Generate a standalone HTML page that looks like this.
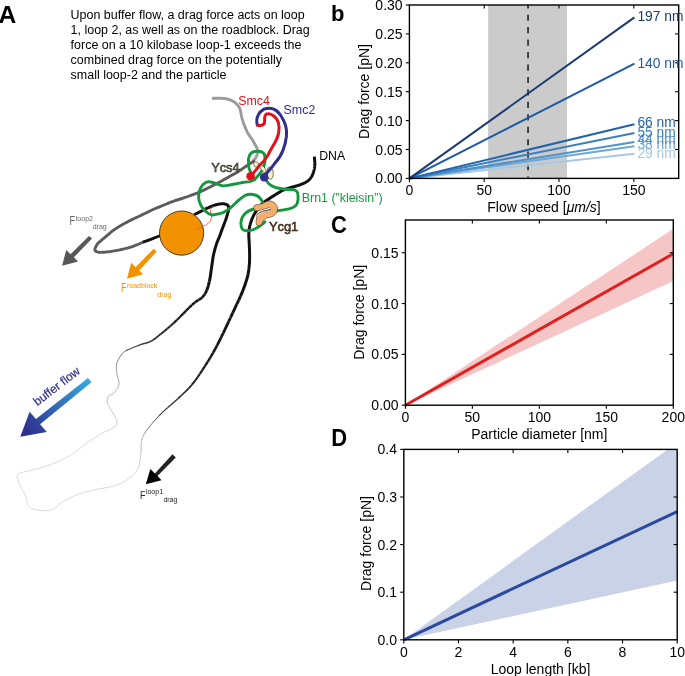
<!DOCTYPE html>
<html><head><meta charset="utf-8">
<style>
html,body{margin:0;padding:0;background:#fff;width:685px;height:676px;overflow:hidden}
svg{display:block;will-change:transform;font-family:"Liberation Sans",sans-serif}
</style></head><body>
<svg width="685" height="676" viewBox="0 0 685 676">
<rect width="685" height="676" fill="#fff"/>
<!-- ================= PANEL A ================= -->
<g id="A">
<text transform="translate(-1.5,22.9) scale(1.1,1.03)" font-size="22.4" font-weight="bold" fill="#000">A</text>
<g font-size="12.47" fill="#000">
<text x="70.6" y="19.0">Upon buffer flow, a drag force acts on loop</text>
<text x="70.6" y="34.1">1, loop 2, as well as on the roadblock. Drag</text>
<text x="70.6" y="48.9">force on a 10 kilobase loop-1 exceeds the</text>
<text x="70.6" y="63.7">combined drag force on the potentially</text>
<text x="70.6" y="78.5">small loop-2 and the particle</text>
</g>

<!-- loop1 (DNA, tapering) -->
<g fill="none" stroke-linecap="butt" stroke-linejoin="round"><polyline points="314.40,156.70 314.43,157.21 314.46,157.72 314.50,158.24 314.54,158.76 314.58,159.28 314.62,159.80 314.66,160.32 314.69,160.84 314.73,161.36 314.76,161.87 314.79,162.38 314.81,162.88 314.82,163.37 314.82,163.86 314.82,164.33 314.80,164.80 314.78,165.25 314.74,165.70 314.71,166.14 314.67,166.57 314.62,166.99 314.56,167.41 314.50,167.82 314.44,168.23 314.37,168.63 314.29,169.03 314.20,169.43 314.12,169.83 314.02,170.22 313.92,170.61 313.81,171.01 313.70,171.40 313.58,171.79 313.46,172.19 313.33,172.58 313.20,172.98 313.06,173.37 312.92,173.76 312.77,174.15 312.61,174.54 312.45,174.92 312.28,175.29 312.10,175.66 311.92,176.03 311.73,176.38 311.53,176.73 311.32,177.07 311.10,177.40 310.88,177.72 310.65,178.03 310.42,178.34 310.18,178.64 309.93,178.93 309.68,179.22 309.42,179.49 309.15,179.77 308.87,180.04 308.58,180.30 308.28,180.56 307.97,180.81 307.65,181.07 307.31,181.31 306.96,181.56 306.60,181.80 306.22,182.04 305.82,182.27 305.40,182.50 304.97,182.73 304.53,182.95 304.07,183.16 303.60,183.37 303.12,183.58 302.64,183.78 302.15,183.98 301.66,184.18 301.17,184.37 300.67,184.56 300.18,184.74 299.69,184.92 299.20,185.10 298.71,185.27 298.22,185.43 297.71,185.59 297.21,185.74 296.70,185.89 296.18,186.03 295.67,186.16 295.15,186.30 294.63,186.43 294.12,186.57 293.60,186.70 293.09,186.83 292.59,186.97 292.08,187.11 291.59,187.25 291.10,187.40 290.61,187.55 290.13,187.70 289.64,187.85 289.15,188.00 288.66,188.15 288.18,188.31 287.70,188.46 287.22,188.61 286.75,188.77 286.28,188.92 285.83,189.08 285.38,189.24 284.94,189.40 284.51,189.57 284.10,189.73 283.70,189.90 283.32,190.07 282.97,190.23 282.63,190.39 282.32,190.54 282.02,190.70 281.73,190.86 281.44,191.02 281.16,191.18 280.87,191.35 280.58,191.53 280.28,191.71 279.97,191.90 279.64,192.11 279.28,192.32 278.91,192.55 278.50,192.80 278.06,193.06 277.60,193.34 277.12,193.63 276.62,193.94 276.10,194.26 275.57,194.59 275.02,194.92 274.47,195.26 273.92,195.61 273.37,195.96 272.82,196.31 272.27,196.65 271.73,197.00 271.21,197.34 270.69,197.67 270.20,198.00 269.72,198.32 269.24,198.63 268.77,198.93 268.30,199.23 267.84,199.53 267.38,199.82 266.93,200.12 266.48,200.42 266.03,200.72 265.59,201.03 265.15,201.35 264.71,201.67 264.28,202.01 263.85,202.36 263.42,202.72 263.00,203.10 262.58,203.50 262.15,203.91 261.73,204.33 261.31,204.77 260.89,205.22 260.47,205.68 260.06,206.15 259.66,206.62 259.26,207.09 258.86,207.57 258.48,208.05 258.10,208.53 257.73,209.01 257.38,209.48 257.03,209.94 256.70,210.40 256.38,210.85 256.07,211.30 255.78,211.74 255.49,212.18 255.21,212.62 254.94,213.06 254.68,213.50 254.43,213.94 254.19,214.38 253.95,214.82 253.71,215.27 253.48,215.73 253.26,216.18 253.04,216.65 252.82,217.12 252.60,217.60 252.39,218.09 252.18,218.59 251.97,219.09 251.77,219.60 251.57,220.12 251.38,220.64 251.19,221.17 251.01,221.69 250.83,222.22 250.66,222.75 250.50,223.28 250.34,223.81 250.20,224.34 250.05,224.86 249.92,225.38 249.80,225.90 249.69,226.41 249.58,226.90 249.48,227.39 249.39,227.88 249.30,228.36 249.23,228.83 249.16,229.31 249.09,229.79 249.04,230.28 248.99,230.77 248.94,231.28 248.90,231.79 248.87,232.32 248.84,232.86 248.82,233.42 248.80,234.00 248.79,234.60 248.79,235.22 248.80,235.85 248.82,236.50 248.85,237.16 248.89,237.83 248.93,238.52 248.97,239.21 249.01,239.90 249.06,240.60 249.11,241.30 249.15,242.01 249.20,242.71 249.24,243.41 249.27,244.11 249.30,244.80 249.33,245.49 249.35,246.19 249.38,246.89 249.41,247.60 249.43,248.31 249.46,249.02 249.48,249.74 249.51,250.45 249.53,251.16 249.55,251.87 249.56,252.58 249.58,253.28 249.59,253.97 249.60,254.65 249.60,255.33 249.60,256.00 249.60,256.66 249.59,257.30 249.59,257.93 249.58,258.55 249.58,259.17 249.57,259.78 249.55,260.38 249.54,260.99 249.52,261.59 249.49,262.20 249.46,262.81 249.42,263.43 249.38,264.06 249.33,264.69 249.27,265.34 249.20,266.00 249.13,266.67 249.06,267.33 248.98,268.00 248.91,268.67 248.82,269.34 248.74,270.02 248.64,270.71 248.54,271.40 248.43,272.10 248.31,272.81 248.18,273.54 248.04,274.28 247.88,275.03 247.70,275.80 247.51,276.59 247.30,277.40 247.07,278.23 246.83,279.08 246.57,279.94 246.30,280.83 246.02,281.73 245.72,282.64 245.41,283.56 245.09,284.50 244.76,285.45 244.42,286.40 244.07,287.36 243.71,288.32 243.34,289.29 242.97,290.26 242.59,291.23 242.20,292.20 241.80,293.17 241.40,294.14 240.98,295.11 240.55,296.08" stroke="#111111" stroke-width="3.00"/>
<polyline points="240.55,296.08 240.11,297.06 239.66,298.04 239.21,299.02 238.74,300.02" stroke="#121212" stroke-width="3.00"/>
<polyline points="238.74,300.02 238.27,301.02 237.79,302.04 237.31,303.06 236.82,304.10" stroke="#121212" stroke-width="2.90"/>
<polyline points="236.82,304.10 236.32,305.15 235.82,306.22 235.31,307.30 234.80,308.40 234.28,309.52 233.76,310.65 233.23,311.80 232.70,312.96" stroke="#131313" stroke-width="2.90"/>
<polyline points="232.70,312.96 232.16,314.14 231.61,315.32 231.06,316.52 230.50,317.73" stroke="#141414" stroke-width="2.90"/>
<polyline points="230.50,317.73 229.93,318.95 229.36,320.18 228.78,321.42" stroke="#141414" stroke-width="2.80"/>
<polyline points="228.78,321.42 228.20,322.66 227.61,323.91 227.01,325.17 226.41,326.43 225.80,327.70 225.18,328.98 224.55,330.29 223.91,331.62 223.26,332.97" stroke="#151515" stroke-width="2.80"/>
<polyline points="223.26,332.97 222.61,334.33 221.95,335.69 221.28,337.07" stroke="#161616" stroke-width="2.70"/>
<polyline points="221.28,337.07 220.61,338.44 219.93,339.82 219.25,341.18 218.57,342.54 217.89,343.87 217.22,345.19" stroke="#171717" stroke-width="2.70"/>
<polyline points="217.22,345.19 216.54,346.49 215.87,347.76 215.20,349.00 214.54,350.21 213.88,351.39 213.22,352.56" stroke="#181818" stroke-width="2.60"/>
<polyline points="213.22,352.56 212.57,353.70 211.92,354.82 211.27,355.94 210.62,357.04" stroke="#191919" stroke-width="2.50"/>
<polyline points="210.62,357.04 209.96,358.12 209.30,359.21 208.64,360.29 207.97,361.36" stroke="#1a1a1a" stroke-width="2.40"/>
<polyline points="207.97,361.36 207.30,362.44 206.61,363.52 205.92,364.60 205.22,365.70" stroke="#1b1b1b" stroke-width="2.40"/>
<polyline points="205.22,365.70 204.50,366.80 203.77,367.92 203.04,369.04 202.31,370.17" stroke="#1c1c1c" stroke-width="2.30"/>
<polyline points="202.31,370.17 201.56,371.31 200.81,372.46 200.05,373.60" stroke="#1e1e1e" stroke-width="2.20"/>
<polyline points="200.05,373.60 199.29,374.74 198.52,375.88 197.74,377.00" stroke="#1f1f1f" stroke-width="2.10"/>
<polyline points="197.74,377.00 196.96,378.12 196.17,379.23 195.37,380.32" stroke="#202020" stroke-width="2.00"/>
<polyline points="195.37,380.32 194.56,381.40 193.75,382.46 192.93,383.49 192.10,384.50" stroke="#212121" stroke-width="2.00"/>
<polyline points="192.10,384.50 191.27,385.48 190.42,386.44 189.57,387.38 188.72,388.30" stroke="#232323" stroke-width="1.80"/>
<polyline points="188.72,388.30 187.86,389.20 186.99,390.08 186.11,390.95 185.22,391.82" stroke="#262626" stroke-width="1.70"/>
<polyline points="185.22,391.82 184.33,392.68 183.44,393.53 182.53,394.38 181.62,395.23" stroke="#282828" stroke-width="1.60"/>
<polyline points="181.62,395.23 180.70,396.09 179.77,396.95 178.84,397.82 177.90,398.70" stroke="#2b2b2b" stroke-width="1.60"/>
<polyline points="177.90,398.70 176.95,399.58 175.97,400.46 174.99,401.34 173.98,402.21" stroke="#2e2e2e" stroke-width="1.40"/>
<polyline points="173.98,402.21 172.97,403.08 171.95,403.95 170.93,404.82" stroke="#313131" stroke-width="1.40"/>
<polyline points="170.93,404.82 169.90,405.69 168.87,406.56 167.85,407.44" stroke="#333333" stroke-width="1.30"/>
<polyline points="167.85,407.44 166.83,408.33 165.82,409.22 164.81,410.13" stroke="#363636" stroke-width="1.20"/>
<polyline points="164.81,410.13 163.83,411.04 162.85,411.96 161.90,412.90" stroke="#393939" stroke-width="1.10"/>
<polyline points="161.90,412.90 160.95,413.86 159.98,414.85 159.01,415.86" stroke="#3d3d3d" stroke-width="1.10"/>
<polyline points="159.01,415.86 158.03,416.89 157.05,417.94 156.08,418.99" stroke="#424242" stroke-width="1.00"/>
<polyline points="156.08,418.99 155.12,420.05 154.17,421.11 153.24,422.16" stroke="#474747" stroke-width="1.00"/>
<polyline points="153.24,422.16 152.34,423.19 151.46,424.22 150.62,425.22" stroke="#4c4c4c" stroke-width="0.90"/>
<polyline points="150.62,425.22 149.82,426.19 149.07,427.13 148.36,428.04 147.70,428.90" stroke="#525252" stroke-width="0.80"/>
<polyline points="147.70,428.90 147.09,429.71 146.53,430.48 146.01,431.20 145.53,431.89 145.08,432.55" stroke="#5c5c5c" stroke-width="0.80"/>
<polyline points="145.08,432.55 144.66,433.19 144.28,433.81 143.92,434.42 143.60,435.03 143.29,435.64 143.00,436.27" stroke="#6a6a6a" stroke-width="0.70"/>
<polyline points="143.00,436.27 142.74,436.91 142.48,437.58 142.25,438.28 142.02,439.02 141.80,439.80 141.61,440.62" stroke="#7a7a7a" stroke-width="0.60"/>
<polyline points="141.61,440.62 141.45,441.48 141.34,442.35 141.25,443.26 141.20,444.18 141.16,445.12" stroke="#848484" stroke-width="0.60"/>
<polyline points="141.16,445.12 141.14,446.07 141.13,447.04 141.12,448.01 141.11,448.98 141.10,449.95" stroke="#888888" stroke-width="0.60"/>
<polyline points="141.10,449.95 141.08,450.92 141.05,451.89 140.99,452.84 140.91,453.78 140.80,454.70" stroke="#8e8e8e" stroke-width="0.60"/>
<polyline points="140.80,454.70 140.68,455.62 140.57,456.54 140.46,457.46 140.36,458.39 140.26,459.31" stroke="#929292" stroke-width="0.50"/>
<polyline points="140.26,459.31 140.15,460.24 140.03,461.16 139.89,462.07 139.73,462.98 139.55,463.88" stroke="#989898" stroke-width="0.50"/>
<polyline points="139.55,463.88 139.34,464.77 139.09,465.65 138.81,466.51 138.49,467.36 138.12,468.19" stroke="#9c9c9c" stroke-width="0.50"/>
<polyline points="138.12,468.19 137.70,469.00 137.23,469.80 136.71,470.59 136.15,471.38 135.54,472.16" stroke="#a2a2a2" stroke-width="0.50"/>
<polyline points="135.54,472.16 134.90,472.93 134.23,473.69 133.53,474.43 132.80,475.16" stroke="#a6a6a6" stroke-width="0.50"/>
<polyline points="132.80,475.16 132.05,475.88 131.28,476.58 130.50,477.25 129.71,477.91" stroke="#aaaaaa" stroke-width="0.50"/>
<polyline points="129.71,477.91 128.91,478.55 128.10,479.16 127.30,479.74 126.50,480.30" stroke="#aeaeae" stroke-width="0.50"/>
<polyline points="126.50,480.30 125.70,480.83 124.88,481.33 124.04,481.81 123.19,482.26 122.33,482.69 121.46,483.10 120.57,483.49 119.67,483.86 118.77,484.22 117.85,484.56 116.93,484.89 116.00,485.21 115.06,485.52 114.11,485.82 113.16,486.11 112.20,486.40 111.24,486.67 110.26,486.92 109.28,487.14 108.29,487.34 107.30,487.52 106.29,487.69 105.28,487.86 104.26,488.01 103.23,488.17 102.19,488.32 101.14,488.48 100.09,488.65 99.03,488.84 97.96,489.04 96.88,489.26 95.80,489.50 94.70,489.76 93.57,490.03 92.42,490.30 91.24,490.59 90.06,490.88 88.87,491.18 87.67,491.49 86.47,491.80 85.27,492.12 84.09,492.45 82.91,492.79 81.76,493.14 80.62,493.49 79.52,493.85 78.44,494.22 77.40,494.60 76.39,494.99 75.40,495.38 74.44,495.79 73.49,496.21 72.56,496.63 71.64,497.07 70.75,497.51 69.86,497.96 68.99,498.41 68.13,498.87 67.28,499.33 66.43,499.80 65.59,500.27 64.76,500.75 63.93,501.22 63.10,501.70 62.28,502.20 61.49,502.73 60.71,503.29 59.95,503.86 59.20,504.46 58.46,505.05 57.73,505.65 57.00,506.24 56.27,506.82 55.54,507.38 54.80,507.91 54.05,508.40 53.29,508.85 52.51,509.26 51.72,509.61 50.90,509.90 50.05,510.13 49.17,510.32 48.26,510.47 47.33,510.57 46.38,510.64 45.42,510.68 44.46,510.69 43.50,510.67 42.55,510.63 41.61,510.56 40.69,510.48 39.80,510.38 38.93,510.27 38.11,510.15 37.33,510.03 36.60,509.90 35.91,509.77 35.25,509.63 34.61,509.47 34.00,509.31 33.42,509.13 32.85,508.93 32.32,508.72 31.80,508.49 31.31,508.24 30.83,507.96 30.38,507.67 29.95,507.35 29.53,507.00 29.14,506.63 28.76,506.23 28.40,505.80 28.07,505.33 27.78,504.82 27.53,504.27 27.31,503.68 27.12,503.06 26.95,502.42 26.80,501.76 26.66,501.08 26.52,500.39 26.38,499.69 26.25,498.99 26.10,498.29 25.93,497.60 25.75,496.92 25.54,496.25 25.30,495.60 25.03,494.96 24.74,494.31 24.44,493.66 24.12,493.00 23.78,492.35 23.44,491.69 23.09,491.03 22.74,490.38 22.39,489.72 22.05,489.08 21.71,488.44 21.37,487.81 21.05,487.19 20.75,486.58 20.46,485.98 20.20,485.40 19.94,484.83 19.68,484.25 19.42,483.68 19.16,483.11 18.91,482.55 18.66,482.00 18.42,481.45 18.19,480.92 17.98,480.40 17.79,479.89 17.62,479.39 17.48,478.91 17.36,478.46 17.27,478.02 17.22,477.60 17.20,477.20 17.20,476.83 17.20,476.49 17.20,476.18 17.21,475.89 17.24,475.62 17.30,475.36 17.38,475.12 17.49,474.89 17.64,474.67 17.83,474.46 18.07,474.24 18.37,474.03 18.72,473.81 19.14,473.58 19.63,473.35 20.20,473.10 20.85,472.85 21.60,472.60 22.42,472.36 23.31,472.12 24.27,471.89 25.28,471.65 26.34,471.41 27.44,471.18 28.57,470.93 29.71,470.68 30.88,470.43 32.05,470.17 33.21,469.89 34.36,469.61 35.50,469.31 36.60,469.00 37.70,468.68 38.82,468.35 39.96,468.01 41.11,467.66 42.27,467.31 43.45,466.95 44.62,466.58 45.81,466.21 46.99,465.82 48.17,465.43 49.34,465.03 50.50,464.62 51.65,464.20 52.79,463.78 53.90,463.34 55.00,462.90 56.08,462.45 57.14,462.00 58.18,461.55 59.22,461.09 60.25,460.63 61.26,460.15 62.27,459.67 63.27,459.18 64.27,458.68 65.27,458.16 66.27,457.63 67.27,457.08 68.27,456.52 69.27,455.93 70.28,455.33 71.30,454.70 72.33,454.04 73.36,453.35 74.40,452.62 75.44,451.86 76.49,451.08 77.53,450.29 78.58,449.48 79.62,448.66 80.66,447.85 81.70,447.03 82.73,446.23 83.75,445.43 84.75,444.66 85.75,443.91 86.73,443.19 87.70,442.50 88.66,441.84 89.61,441.18 90.55,440.54 91.48,439.91 92.41,439.30 93.33,438.69 94.24,438.10 95.14,437.51 96.03,436.94 96.91,436.38 97.79,435.84 98.65,435.30 99.50,434.78 100.35,434.28 101.18,433.78 102.00,433.30 102.82,432.84 103.65,432.40" stroke="#b0b0b0" stroke-width="0.50"/>
<polyline points="103.65,432.40 104.49,431.98 105.33,431.58 106.16,431.20 106.99,430.82 107.80,430.46" stroke="#acacac" stroke-width="0.50"/>
<polyline points="107.80,430.46 108.60,430.11 109.37,429.77 110.12,429.42 110.84,429.08 111.52,428.74" stroke="#a6a6a6" stroke-width="0.50"/>
<polyline points="111.52,428.74 112.16,428.39 112.76,428.04 113.31,427.67 113.80,427.30 114.25,426.92 114.65,426.55 115.02,426.18" stroke="#a1a1a1" stroke-width="0.50"/>
<polyline points="115.02,426.18 115.36,425.81 115.65,425.45 115.92,425.08 116.15,424.71 116.34,424.34 116.51,423.97 116.65,423.59 116.76,423.20 116.84,422.80 116.89,422.40" stroke="#9c9c9c" stroke-width="0.50"/>
<polyline points="116.89,422.40 116.92,421.98 116.92,421.55 116.90,421.10 116.84,420.64 116.74,420.17 116.59,419.69 116.41,419.20 116.19,418.69 115.94,418.19" stroke="#979797" stroke-width="0.50"/>
<polyline points="115.94,418.19 115.66,417.67 115.37,417.14 115.06,416.61 114.73,416.08 114.40,415.54 114.07,414.99 113.74,414.45" stroke="#939393" stroke-width="0.50"/>
<polyline points="113.74,414.45 113.41,413.90 113.10,413.35 112.80,412.80 112.49,412.24 112.16,411.67 111.80,411.09 111.43,410.50" stroke="#909090" stroke-width="0.50"/>
<polyline points="111.43,410.50 111.05,409.90 110.66,409.29 110.27,408.69 109.88,408.08 109.51,407.48 109.14,406.88" stroke="#8c8c8c" stroke-width="0.50"/>
<polyline points="109.14,406.88 108.80,406.28 108.49,405.70 108.21,405.13 107.96,404.57 107.76,404.03 107.60,403.50 107.48,402.99" stroke="#898989" stroke-width="0.50"/>
<polyline points="107.48,402.99 107.39,402.48 107.33,401.98 107.29,401.48 107.28,400.99 107.29,400.51 107.33,400.04 107.39,399.58 107.47,399.13 107.57,398.69" stroke="#868686" stroke-width="0.60"/>
<polyline points="107.57,398.69 107.70,398.26 107.84,397.84 108.00,397.43 108.18,397.04 108.38,396.66 108.60,396.30 108.85,395.96 109.14,395.66 109.47,395.39 109.83,395.14" stroke="#838383" stroke-width="0.60"/>
<polyline points="109.83,395.14 110.22,394.90 110.63,394.69 111.06,394.48 111.50,394.27 111.95,394.06 112.39,393.84 112.84,393.61 113.27,393.37 113.69,393.10" stroke="#7f7f7f" stroke-width="0.60"/>
<polyline points="113.69,393.10 114.09,392.80 114.46,392.47 114.80,392.10 115.13,391.70 115.46,391.27 115.80,390.83 116.14,390.36 116.47,389.88" stroke="#7c7c7c" stroke-width="0.60"/>
<polyline points="116.47,389.88 116.80,389.38 117.12,388.86 117.42,388.33 117.71,387.79 117.97,387.24 118.22,386.68 118.44,386.11" stroke="#7a7a7a" stroke-width="0.60"/>
<polyline points="118.44,386.11 118.63,385.54 118.79,384.96 118.91,384.38 119.00,383.80 119.04,383.21 119.02,382.61 118.97,381.99" stroke="#777777" stroke-width="0.70"/>
<polyline points="118.97,381.99 118.87,381.37 118.74,380.73 118.58,380.09 118.40,379.44 118.21,378.78 118.01,378.12 117.81,377.46" stroke="#747474" stroke-width="0.70"/>
<polyline points="117.81,377.46 117.61,376.79 117.43,376.13 117.25,375.47 117.11,374.81 116.99,374.15 116.90,373.50" stroke="#707070" stroke-width="0.70"/>
<polyline points="116.90,373.50 116.83,372.85 116.76,372.20 116.68,371.55 116.61,370.90 116.54,370.25 116.47,369.60 116.42,368.95" stroke="#6d6d6d" stroke-width="0.70"/>
<polyline points="116.42,368.95 116.38,368.30 116.36,367.65 116.35,367.00 116.37,366.35 116.41,365.70 116.49,365.05 116.59,364.40" stroke="#696969" stroke-width="0.80"/>
<polyline points="116.59,364.40 116.73,363.75 116.90,363.10 117.11,362.44 117.37,361.77 117.65,361.08 117.97,360.38" stroke="#656565" stroke-width="0.80"/>
<polyline points="117.97,360.38 118.32,359.67 118.70,358.97 119.09,358.26 119.51,357.57 119.94,356.89" stroke="#5f5f5f" stroke-width="0.90"/>
<polyline points="119.94,356.89 120.38,356.22 120.83,355.57 121.29,354.95 121.74,354.36 122.20,353.80 122.65,353.28" stroke="#595959" stroke-width="1.00"/>
<polyline points="122.65,353.28 123.10,352.80 123.54,352.37 123.99,351.97 124.45,351.62 124.92,351.29 125.39,351.00 125.86,350.73" stroke="#535353" stroke-width="1.00"/>
<polyline points="125.86,350.73 126.35,350.48 126.84,350.25 127.33,350.03 127.84,349.82 128.35,349.61 128.87,349.41 129.39,349.20 129.92,348.98" stroke="#4d4d4d" stroke-width="1.10"/>
<polyline points="129.92,348.98 130.46,348.75 131.00,348.50 131.55,348.24 132.11,347.99 132.68,347.74 133.25,347.49 133.84,347.24" stroke="#464646" stroke-width="1.20"/>
<polyline points="133.84,347.24 134.43,347.00 135.02,346.75 135.62,346.51 136.23,346.26 136.84,346.02 137.46,345.78 138.08,345.54" stroke="#404040" stroke-width="1.30"/>
<polyline points="138.08,345.54 138.71,345.31 139.34,345.07 139.97,344.83 140.60,344.60 141.24,344.37 141.89,344.17" stroke="#3b3b3b" stroke-width="1.40"/>
<polyline points="141.89,344.17 142.54,343.97 143.20,343.78 143.87,343.60 144.54,343.42 145.21,343.24 145.89,343.05" stroke="#383838" stroke-width="1.50"/>
<polyline points="145.89,343.05 146.57,342.86 147.25,342.65 147.93,342.43 148.61,342.20 149.28,341.94 149.96,341.65" stroke="#343434" stroke-width="1.60"/>
<polyline points="149.96,341.65 150.63,341.34 151.30,341.00 151.96,340.63 152.62,340.24 153.27,339.82 153.91,339.39" stroke="#323232" stroke-width="1.70"/>
<polyline points="153.91,339.39 154.56,338.94 155.20,338.48 155.84,337.99 156.49,337.49 157.14,336.98" stroke="#2f2f2f" stroke-width="1.80"/>
<polyline points="157.14,336.98 157.79,336.46 158.45,335.92 159.12,335.37 159.80,334.82 160.48,334.25" stroke="#2c2c2c" stroke-width="1.80"/>
<polyline points="160.48,334.25 161.19,333.68 161.90,333.10 162.63,332.51 163.37,331.91 164.13,331.29" stroke="#2a2a2a" stroke-width="1.90"/>
<polyline points="164.13,331.29 164.89,330.66 165.67,330.02 166.45,329.37 167.24,328.70" stroke="#282828" stroke-width="2.00"/>
<polyline points="167.24,328.70 168.04,328.03 168.84,327.35 169.64,326.66 170.44,325.96" stroke="#262626" stroke-width="2.00"/>
<polyline points="170.44,325.96 171.24,325.26 172.04,324.55 172.83,323.84 173.62,323.12" stroke="#242424" stroke-width="2.10"/>
<polyline points="173.62,323.12 174.40,322.40 175.19,321.66 175.98,320.90 176.79,320.11" stroke="#232323" stroke-width="2.20"/>
<polyline points="176.79,320.11 177.61,319.30 178.43,318.49 179.25,317.66 180.07,316.83" stroke="#212121" stroke-width="2.20"/>
<polyline points="180.07,316.83 180.88,316.00 181.68,315.18 182.48,314.37 183.25,313.57" stroke="#1f1f1f" stroke-width="2.30"/>
<polyline points="183.25,313.57 184.01,312.80 184.75,312.05 185.46,311.33 186.15,310.64" stroke="#1d1d1d" stroke-width="2.40"/>
<polyline points="186.15,310.64 186.80,310.00 187.42,309.39 188.01,308.81 188.58,308.26 189.12,307.73" stroke="#1c1c1c" stroke-width="2.40"/>
<polyline points="189.12,307.73 189.65,307.22 190.15,306.73 190.64,306.26 191.11,305.80 191.58,305.36 192.04,304.93" stroke="#1a1a1a" stroke-width="2.50"/>
<polyline points="192.04,304.93 192.49,304.51 192.95,304.10 193.40,303.69 193.86,303.29 194.32,302.90 194.80,302.50 195.28,302.11" stroke="#191919" stroke-width="2.50"/>
<polyline points="195.28,302.11 195.77,301.75 196.27,301.40 196.76,301.07 197.26,300.75 197.75,300.44 198.24,300.14 198.73,299.84" stroke="#181818" stroke-width="2.60"/>
<polyline points="198.73,299.84 199.20,299.55 199.67,299.25 200.13,298.95 200.58,298.64 201.01,298.33 201.42,298.00 201.82,297.66 202.20,297.30" stroke="#161616" stroke-width="2.70"/>
<polyline points="202.20,297.30 202.56,296.93 202.90,296.57 203.23,296.20 203.54,295.84 203.84,295.47 204.13,295.09 204.41,294.71 204.67,294.33 204.93,293.93" stroke="#141414" stroke-width="2.70"/>
<polyline points="204.93,293.93 205.18,293.51 205.43,293.09 205.67,292.65 205.90,292.19 206.14,291.72 206.37,291.22 206.60,290.70 206.83,290.16" stroke="#131313" stroke-width="2.80"/>
<polyline points="206.83,290.16 207.05,289.59 207.26,289.01 207.47,288.41 207.68,287.79 207.88,287.16 208.07,286.52 208.26,285.86" stroke="#121212" stroke-width="2.90"/>
<polyline points="208.26,285.86 208.44,285.19 208.62,284.51 208.79,283.82 208.96,283.12 209.13,282.42 209.29,281.72" stroke="#121212" stroke-width="3.00"/>
<polyline points="209.29,281.72 209.45,281.01 209.60,280.30 209.75,279.58 209.89,278.86 210.02,278.12 210.15,277.38 210.27,276.62 210.39,275.86 210.50,275.09 210.61,274.31 210.72,273.53 210.83,272.75 210.94,271.96 211.04,271.17 211.15,270.38 211.27,269.58 211.38,268.79 211.50,268.00 211.62,267.20 211.74,266.39 211.85,265.58 211.97,264.75 212.08,263.92 212.20,263.09 212.31,262.25 212.43,261.42 212.55,260.59 212.67,259.76 212.80,258.94 212.93,258.13 213.06,257.32 213.20,256.53 213.35,255.76 213.50,255.00 213.66,254.25 213.83,253.51 214.00,252.76 214.18,252.03 214.36,251.30 214.55,250.57 214.74,249.86 214.94,249.16 215.13,248.46 215.33,247.78 215.53,247.11 215.73,246.46 215.92,245.82 216.12,245.19 216.31,244.59 216.50,244.00 216.69,243.44 216.87,242.90 217.06,242.39 217.25,241.90 217.43,241.43 217.62,240.98 217.81,240.53 217.99,240.09 218.18,239.66 218.37,239.23 218.56,238.80 218.74,238.36 218.93,237.92 219.12,237.46 219.31,236.99 219.50,236.50 219.69,236.00 219.88,235.49 220.07,234.97 220.27,234.45 220.46,233.92 220.65,233.39 220.84,232.85 221.04,232.31 221.23,231.77 221.43,231.23 221.62,230.69 221.82,230.15 222.01,229.61 222.21,229.07 222.40,228.53 222.60,228.00 222.80,227.47 223.00,226.92 223.21,226.38 223.42,225.83 223.63,225.28 223.85,224.72 224.06,224.17 224.27,223.62 224.48,223.08 224.68,222.54 224.89,222.01 225.08,221.48 225.27,220.97 225.46,220.47 225.63,219.98 225.80,219.50 225.96,219.04 226.11,218.58 226.26,218.13 226.41,217.69 226.55,217.25 226.68,216.83 226.81,216.41 226.94,216.00 227.06,215.60 227.18,215.20 227.29,214.82 227.40,214.44 227.50,214.07 227.61,213.70 227.70,213.35 227.80,213.00 227.89,212.66 227.99,212.33 228.08,212.02 228.17,211.71 228.26,211.41 228.34,211.11 228.43,210.83 228.50,210.55 228.57,210.28 228.63,210.01 228.68,209.75 228.73,209.49 228.76,209.24 228.79,208.99 228.80,208.74 228.80,208.50 228.79,208.26 228.78,208.02 228.76,207.78 228.73,207.55 228.69,207.32 228.65,207.09 228.60,206.87 228.54,206.66 228.46,206.45 228.38,206.25 228.29,206.05 228.18,205.86 228.05,205.68 227.92,205.51 227.77,205.35 227.60,205.20 227.42,205.06 227.22,204.92 227.01,204.79 226.79,204.66 226.56,204.54 226.31,204.43 226.05,204.33 225.78,204.23 225.50,204.14 225.20,204.07 224.90,204.00 224.58,203.94 224.25,203.89 223.91,203.85 223.56,203.82 223.20,203.80 222.83,203.79 222.43,203.80 222.03,203.81 221.60,203.83 221.17,203.86 220.72,203.90 220.26,203.95 219.79,204.01 219.32,204.08 218.84,204.16 218.35,204.24 217.86,204.34 217.37,204.44 216.88,204.55 216.39,204.67 215.90,204.80 215.41,204.94 214.90,205.09 214.39,205.26 213.87,205.44 213.34,205.62 212.81,205.82 212.28,206.03 211.74,206.24 211.21,206.45 210.68,206.67 210.15,206.90 209.62,207.12 209.10,207.34 208.59,207.57 208.09,207.78 207.60,208.00 207.12,208.21 206.64,208.43 206.17,208.66 205.70,208.88 205.24,209.11 204.78,209.34 204.33,209.57 203.87,209.81 203.43,210.04 202.99,210.27 202.55,210.50 202.11,210.73 201.68,210.95 201.25,211.17 200.82,211.39 200.40,211.60 199.98,211.81 199.57,212.01 199.16,212.21 198.76,212.41 198.36,212.61 197.97,212.80 197.58,212.99 197.19,213.18 196.81,213.37 196.42,213.56 196.04,213.75 195.65,213.94 195.27,214.13 194.88,214.32 194.49,214.51 194.10,214.70" stroke="#111111" stroke-width="3.00"/></g>

<!-- light gray DNA top -->
<path d="M212.00,98.30 L213.63,98.29 L215.31,98.26 L216.98,98.24 L218.61,98.23 L220.17,98.24 L221.60,98.30 L222.89,98.39 L224.07,98.50 L225.18,98.63 L226.23,98.80 L227.26,99.02 L228.30,99.30 L229.36,99.64 L230.43,100.03 L231.47,100.46 L232.47,100.94 L233.42,101.46 L234.30,102.00 L235.11,102.59 L235.86,103.24 L236.55,103.92 L237.19,104.62 L237.77,105.32 L238.30,106.00 L238.76,106.64 L239.14,107.24 L239.47,107.84 L239.76,108.47 L240.03,109.18 L240.30,110.00 L240.55,110.95 L240.76,112.00 L240.95,113.13 L241.14,114.30 L241.35,115.46 L241.60,116.60 L241.88,117.71 L242.19,118.83 L242.51,119.94 L242.86,121.06 L243.22,122.18 L243.60,123.30 L244.01,124.44 L244.45,125.60 L244.91,126.76 L245.37,127.89 L245.84,128.98 L246.30,130.00 L246.74,130.93 L247.17,131.79 L247.60,132.61 L248.04,133.40 L248.50,134.19 L249.00,135.00 L249.55,135.83 L250.13,136.67 L250.74,137.50 L251.36,138.33 L251.95,139.17 L252.50,140.00 L253.02,140.84 L253.51,141.69 L253.99,142.53 L254.44,143.37 L254.88,144.20 L255.30,145.00 L255.71,145.78 L256.13,146.56 L256.52,147.31 L256.88,148.06 L257.18,148.78 L257.40,149.50 L257.54,150.20 L257.61,150.87 L257.63,151.53 L257.60,152.19 L257.52,152.84 L257.40,153.50 L257.24,154.17 L257.03,154.85 L256.77,155.53 L256.48,156.20 L256.15,156.86 L255.80,157.50 L255.40,158.11 L254.96,158.70 L254.48,159.28 L253.98,159.85 L253.48,160.42 L253.00,161.00" fill="none" stroke="#9b9b9b" stroke-width="2.9" stroke-linecap="butt" stroke-linejoin="round"/>
<!-- loop2 dark gray -->
<path d="M253.80,161.20 L252.49,162.05 L251.17,162.91 L249.86,163.77 L248.55,164.62 L247.26,165.47 L246.00,166.30 L244.81,167.11 L243.69,167.89 L242.58,168.66 L241.45,169.44 L240.24,170.25 L238.90,171.10 L237.41,172.00 L235.81,172.94 L234.13,173.91 L232.40,174.88 L230.68,175.85 L229.00,176.80 L227.35,177.73 L225.71,178.66 L224.06,179.58 L222.41,180.50 L220.76,181.40 L219.10,182.30 L217.42,183.19 L215.74,184.07 L214.04,184.95 L212.35,185.81 L210.67,186.67 L209.00,187.50 L207.38,188.31 L205.82,189.10 L204.26,189.87 L202.67,190.64 L201.00,191.42 L199.20,192.20 L197.24,193.00 L195.16,193.83 L192.99,194.65 L190.80,195.46 L188.62,196.25 L186.50,197.00 L184.43,197.70 L182.36,198.36 L180.31,198.99 L178.29,199.62 L176.32,200.25 L174.40,200.90 L172.57,201.56 L170.81,202.23 L169.11,202.89 L167.41,203.57 L165.68,204.27 L163.90,205.00 L162.04,205.76 L160.13,206.54 L158.20,207.34 L156.27,208.15 L154.36,208.97 L152.50,209.80 L150.69,210.64 L148.91,211.49 L147.16,212.36 L145.43,213.22 L143.71,214.07 L142.00,214.90 L140.30,215.70 L138.62,216.48 L136.95,217.25 L135.29,218.02 L133.64,218.80 L132.00,219.60 L130.35,220.42 L128.70,221.26 L127.06,222.11 L125.43,222.97 L123.84,223.83 L122.30,224.70 L120.80,225.57 L119.32,226.44 L117.88,227.31 L116.47,228.20 L115.11,229.09 L113.80,230.00 L112.55,230.94 L111.34,231.90 L110.19,232.88 L109.07,233.84 L107.97,234.79 L106.90,235.70 L105.84,236.58 L104.79,237.43 L103.76,238.27 L102.78,239.08 L101.86,239.86 L101.00,240.60 L100.21,241.28 L99.49,241.89 L98.82,242.46 L98.20,243.05 L97.63,243.68 L97.10,244.40 L96.57,245.26 L96.04,246.23 L95.55,247.25 L95.16,248.25 L94.93,249.15 L94.90,249.90 L95.10,250.48 L95.50,250.96 L96.05,251.34 L96.71,251.64 L97.44,251.89 L98.20,252.10 L99.00,252.25 L99.89,252.32 L100.85,252.34 L101.86,252.31 L102.92,252.26 L104.00,252.20 L105.11,252.13 L106.27,252.03 L107.47,251.91 L108.71,251.76 L109.98,251.59 L111.30,251.40 L112.67,251.19 L114.09,250.94 L115.56,250.68 L117.04,250.40 L118.53,250.10 L120.00,249.80 L121.48,249.48 L122.99,249.15 L124.49,248.81 L125.98,248.45 L127.42,248.08 L128.80,247.70 L130.09,247.31 L131.33,246.91 L132.51,246.51 L133.67,246.09 L134.83,245.65 L136.00,245.20 L137.18,244.73 L138.35,244.24 L139.51,243.73 L140.67,243.22 L141.84,242.71 L143.00,242.20" fill="none" stroke="#5c5c5c" stroke-width="2.9" stroke-linecap="round" stroke-linejoin="round"/>
<path d="M143,242.2 C149,240 154,238 162,235" fill="none" stroke="#111" stroke-width="2.9"/>

<!-- roadblock ball -->
<circle cx="181.6" cy="233.1" r="22.1" fill="#f39200" stroke="#1a1a1a" stroke-width="0.8"/>
<path d="M196.7,229.4 C200,227.5 204,226 206.7,224.5 C209.5,222.5 211.3,220 211.6,217 C211.8,214 210,212 210.4,209.6 C211,207.8 212.5,207 214.1,206.6" fill="none" stroke="#e8501c" stroke-width="0.85"/>

<!-- Kleisin green -->
<g fill="none" stroke="#14973f" stroke-width="2.9" stroke-linecap="round" stroke-linejoin="round">
<!-- right part from blue dot -->
<path d="M264.5,177 C266,180.5 268,183.5 271.2,185.5 C274,187.3 276,188 280,188.5 C284,189 290,189.5 294.8,190 C297,190.8 297.8,192.5 297.9,194.4 C298.3,198 298.2,202.5 296.1,205.2 C293.5,207.8 288,209.3 283.7,209.9 L276,211"/>
<!-- lower-left loop around Ycg1 -->
<path d="M255,209 C251,209.5 246,212 243.3,215.6 C240.8,219 240,225 242.2,229 C244,231.5 250,231 253.6,229.5 C257,228 262,224.5 265,221.8"/>
<!-- upper-left big loop to red dot -->
<path d="M262.8,203 C262,200 259,196 255.3,195 C252,194 248.1,194 245,195.5 C241,197.5 238,201 235.9,202.7 C233,205.5 231,208 228.7,209.3 C225,211.5 223,213 220.5,213.4 C217,214.3 214,215.3 212.4,215 C209,214.3 207.5,213.5 206.2,211.9 C203.5,209.5 202,207.5 201.1,205.8 C199.5,202.5 198.6,200 198.6,197.6 C198.6,194.5 199,192.5 199.6,190.4 C200.5,188 201.8,185.5 203.2,184.3 C205,182.7 206.5,181.8 208.3,181.8 C211,181.8 213,182.7 215.4,183.3 C218,184 220,185.6 222.6,185.8 C225.5,186 228,185.3 230.8,184.8 C234,184.2 237.5,183.5 241,182.8 C244.5,182.2 248,181.8 250,181.6 C252,181.3 253,180.5 254.6,179.6"/>
<!-- small loop over Ycs4 (left side) -->
<path d="M250.6,172 C249,169.5 248.6,167 248.6,165 C248.5,162.5 248.3,160.5 248.6,158.3 C249,156 250,154 251.3,153 C253,151.8 255,151.3 256.6,151.3 C259,151.2 261,151.5 262,152 C263.5,153 264.3,154 264.6,155"/>
</g>
<!-- green small loop right side (over the blob, under red stick) -->
<path d="M264.6,155 C265.2,157.5 265.1,160 264.9,162.5 C264.6,165.5 263.4,168.5 261.3,171.6 C259.7,174 257.5,176.6 254.6,179.6" fill="none" stroke="#14973f" stroke-width="2.9" stroke-linecap="round"/>

<!-- Ycs4 cream blobs -->
<g fill="#f7efbd" stroke="#222" stroke-width="0.6">
<path d="M253.6,163.5 C253.4,161.8 255,161.6 256.2,161.9 C258,162.3 259.2,163.8 258.8,165.6 C258.3,167.2 256.4,167.6 255,166.9 C254,166.3 253.7,165 253.6,163.5 Z"/>
<path d="M259.3,164.2 C261.5,164.6 263.8,166.4 265.2,168.4 C266.2,169.8 266.6,171.2 265.6,172.2 C264.6,173 263.4,172.2 262.6,171 C261.6,169.6 260.2,168.4 258.9,167.4 C258,166.6 258.2,164.2 259.3,164.2 Z"/>
<path d="M268.6,167.2 C270.6,166.6 272.4,168.6 273,171.2 C273.6,174 273.3,177 271.8,178.6 C270.5,179.8 268.6,179.2 267.8,177.6 C267,175.9 267.9,174.4 267.7,172.6 C267.5,170.6 267.2,167.8 268.6,167.2 Z"/>
</g>
<!-- Smc2 blue -->
<path d="M257.2,124.8 C256.6,122 256.6,118 258.2,115.2 C259.8,112 261.5,110.5 264,109.2 C266.5,108.2 269.5,107.8 273.1,108.9 C276,110 278.5,112 280.5,115 C282.5,118 284.5,122 285.7,125.9 C286.7,129.5 286.7,133 286.4,136.5 C286,140 285.3,144 283.1,150 C281.5,154.5 278.8,159 274.6,163.6 C272.5,166.5 270,169.5 268,171.6 C266.5,173.3 265.2,175 264.2,177.3" fill="none" stroke="#2e2f8d" stroke-width="3" stroke-linecap="round" stroke-linejoin="round"/>
<!-- Smc4 red -->
<path d="M257.6,125.5 C259.5,125.5 261,125.4 262.4,125 C264,124.4 264.6,123.2 264.6,121.5 C264.6,119.8 264.4,117.5 265,116 C265.5,114.5 267,113.6 268.7,113.7 C270.5,113.8 272,114.5 273.1,115.5 C275,117 276,118 276.8,119.2 C278.3,121.5 279,124.2 279,127 C279,129.5 279,131.5 278.4,134 C277.6,137 276.5,140 275,142.5 C273,146 270.5,150 268,155 C265.5,159 262.8,162.5 260,165 C257,168.5 254,172.5 250.6,176.3" fill="none" stroke="#e2101b" stroke-width="3" stroke-linecap="round" stroke-linejoin="round"/>
<circle cx="250.6" cy="176.3" r="4.3" fill="#e2101b"/>
<circle cx="264.2" cy="177.3" r="4.3" fill="#2e2f8d"/>

<!-- Ycg1 -->
<path d="M254.2,205.7 C255,205 257.5,204.3 261.9,203.7 C263.5,203.3 265,201.9 266.1,201.6 C268,201 269.8,200.8 271.2,201.1 C273.5,201.8 275.3,203 275.9,204.2 C277.2,206 277.6,207.2 277.5,208.3 C277.5,210.5 277.1,212 276.4,213 C275.4,214.5 274.3,215.5 273.3,216.1 C271.5,217 269.8,217.3 268.1,217.6 C266.5,218 265.2,218.5 264.5,219.2 C263.5,220.5 263,221.8 262.4,222.8 C261.5,224.2 260.7,225 259.9,225.4 C258.7,225.8 257.2,225.6 256.7,224.9 C256,223.5 255.9,222 256.2,220.7 C256.5,218.5 256.7,217 257.3,215.6 C258,214 259,213 259.9,212.5 C261.5,211.5 263.3,211.2 265,210.9 C266.5,210.7 268.2,210.7 269.2,210.4 C270.2,210 270.9,209.4 270.7,208.8 C270.4,208.1 269.8,207.8 269.2,207.8 C267.8,207.9 266.4,208.4 265,208.8 C263.5,209.3 262,209.6 260.9,209.9 C259.6,210.3 258.5,210.8 257.3,210.9 C256.2,211 255.2,210.6 254.7,209.9 C254,209 253.6,208.3 253.6,207.8 C253.5,206.9 253.7,206.2 254.2,205.7 Z" fill="#f5ae6d" stroke="#2a1a0c" stroke-width="0.5"/>

<path d="M256.2,215.2 C258.2,212 261.8,210.2 265.8,209.2 C268.3,208.6 270.4,208.2 271.2,208.7 C271.5,209.6 269.8,210.4 266.8,211 C263,211.8 259.8,213.2 257.6,215.8 Z" fill="#fff"/>
<path d="M256.2,215.4 C258.4,212.8 261.6,211.4 265.2,210.6 C267.5,210.1 269.6,209.6 271,209.1" fill="none" stroke="#111" stroke-width="0.8"/>
<!-- labels -->
<text x="238.2" y="104.8" font-size="12.4" fill="#e2101b">Smc4</text>
<text x="283.6" y="113.8" font-size="12.4" fill="#2e2f8d">Smc2</text>
<text x="319.2" y="159.8" font-size="12.3" fill="#000">DNA</text>
<text x="301.7" y="201.8" font-size="12.45" fill="#14973f">Brn1 (”kleisin”)</text>
<text x="211.2" y="172.3" font-size="12.8" fill="#77724c" stroke="#2b2b1e" stroke-width="0.55">Ycs4</text>
<text x="268.9" y="230.8" font-size="12.9" fill="#603c1c" stroke="#2a1a0c" stroke-width="0.5">Ycg1</text>

<!-- loop2 arrow -->
<polygon points="62.1,265.8 66.2,250.1 70.5,254.3 89.0,235.9 92.1,238.6 73.9,257.3 78.0,261.4" fill="#575757"/>
<g fill="#666">
<text transform="translate(69.6,224.9) scale(0.76,1)" font-size="12">F</text>
<text x="75.8" y="220.8" font-size="7">loop2</text>
<text x="92.7" y="228.6" font-size="7">drag</text>
</g>
<!-- roadblock arrow -->
<polygon points="127.0,278.8 131.2,262.8 135.6,267.2 153.7,248.7 156.8,251.6 139.2,270.4 143.0,274.3" fill="#f39200"/>
<g fill="#f39200">
<text transform="translate(120.9,292.4) scale(0.76,1)" font-size="12">F</text>
<text x="127" y="288.2" font-size="7">roadblock</text>
<text x="157.3" y="296.5" font-size="7">drag</text>
</g>
<!-- loop1 arrow -->
<polygon points="172.5,454.3 175.8,457.4 157,476.6 154.9,473.6" fill="#222"/>
<polygon points="145.8,484.2 150.3,468.9 154.7,473.2 157.9,476.3 161.4,480.2" fill="#000"/>
<g fill="#222">
<text transform="translate(140,498.6) scale(0.76,1)" font-size="11.8">F</text>
<text x="145.9" y="494.3" font-size="7">loop1</text>
<text x="163.4" y="501.9" font-size="7">drag</text>
</g>

<!-- buffer flow arrow -->
<defs>
<linearGradient id="bf" x1="90" y1="380" x2="25" y2="431" gradientUnits="userSpaceOnUse">
<stop offset="0" stop-color="#36a9e1"/>
<stop offset="1" stop-color="#2e2f8e"/>
</linearGradient>
</defs>
<polygon points="20.3,436.8 29.6,411.8 36,419.1 88,377.9 91.5,382.3 40.1,424.3 46.8,431.9" fill="url(#bf)"/>
<text transform="translate(37.2,406.3) rotate(-37.5)" font-size="12" fill="#2e2f8e" stroke="#2e2f8e" stroke-width="0.2">buffer flow</text>
</g>

<g id="b">
<text x="331" y="20.9" font-size="22" font-weight="bold">b</text>
<rect x="488.1" y="5" width="78.85" height="173.4" fill="#cbcbcb"/>
<line x1="528.04" y1="5" x2="528.04" y2="178.4" stroke="#222" stroke-width="1.6" stroke-dasharray="6.2,6.25" stroke-dashoffset="2.8"/>
<g stroke-width="2" fill="none">
<line x1="409.4" y1="178.4" x2="634.42" y2="153.72" stroke="#a6c8e4"/>
<line x1="409.4" y1="178.4" x2="634.42" y2="146.32" stroke="#6fa8d6"/>
<line x1="409.4" y1="178.4" x2="634.42" y2="141.99" stroke="#5092c9"/>
<line x1="409.4" y1="178.4" x2="634.42" y2="132.97" stroke="#3a7fc0"/>
<line x1="409.4" y1="178.4" x2="634.42" y2="124.18" stroke="#2164ad"/>
<line x1="409.4" y1="178.4" x2="634.42" y2="63.67" stroke="#1e5aa3"/>
<line x1="409.4" y1="178.4" x2="634.42" y2="17.43" stroke="#1c3a72"/>
</g>
<rect x="409.4" y="5" width="269.3" height="173.4" fill="none" stroke="#000" stroke-width="1.4"/>
<g stroke="#000" stroke-width="1.1">
<line x1="405.8" y1="178.4" x2="409.4" y2="178.4"/>
<line x1="405.8" y1="149.5" x2="409.4" y2="149.5"/>
<line x1="675.1" y1="149.5" x2="678.7" y2="149.5"/>
<line x1="405.8" y1="120.6" x2="409.4" y2="120.6"/>
<line x1="675.1" y1="120.6" x2="678.7" y2="120.6"/>
<line x1="405.8" y1="91.7" x2="409.4" y2="91.7"/>
<line x1="675.1" y1="91.7" x2="678.7" y2="91.7"/>
<line x1="405.8" y1="62.8" x2="409.4" y2="62.8"/>
<line x1="675.1" y1="62.8" x2="678.7" y2="62.8"/>
<line x1="405.8" y1="33.9" x2="409.4" y2="33.9"/>
<line x1="675.1" y1="33.9" x2="678.7" y2="33.9"/>
<line x1="405.8" y1="5" x2="409.4" y2="5"/>
<line x1="409.4" y1="178.4" x2="409.4" y2="182"/>
<line x1="484.21" y1="178.4" x2="484.21" y2="182"/>
<line x1="484.21" y1="5" x2="484.21" y2="8.6"/>
<line x1="559.01" y1="178.4" x2="559.01" y2="182"/>
<line x1="559.01" y1="5" x2="559.01" y2="8.6"/>
<line x1="633.82" y1="178.4" x2="633.82" y2="182"/>
<line x1="633.82" y1="5" x2="633.82" y2="8.6"/>
</g>
<g font-size="14" text-anchor="end">
<text x="402.6" y="183.4">0.00</text>
<text x="402.6" y="154.5">0.05</text>
<text x="402.6" y="125.6">0.10</text>
<text x="402.6" y="96.7">0.15</text>
<text x="402.6" y="67.8">0.20</text>
<text x="402.6" y="38.9">0.25</text>
<text x="402.6" y="10">0.30</text>
</g>
<g font-size="14" text-anchor="middle">
<text x="409.4" y="195.2">0</text>
<text x="484.21" y="195.2">50</text>
<text x="559.01" y="195.2">100</text>
<text x="633.82" y="195.2">150</text>
</g>
<text x="544" y="212.4" font-size="14" text-anchor="middle">Flow speed [<tspan font-style="italic">μm/s</tspan>]</text>
<text transform="translate(369.1,91.5) rotate(-90)" font-size="14" text-anchor="middle">Drag force [pN]</text>
<g font-size="13.8">
<text x="637.4" y="157.5" fill="#a6c8e4">29 nm</text>
<text x="637.4" y="148.8" fill="#6fa8d6">38 nm</text>
<text x="637.4" y="144.3" fill="#5092c9">44 nm</text>
<text x="637.4" y="136.8" fill="#3a7fc0">55 nm</text>
<text x="637.4" y="127.4" fill="#2164ad">66 nm</text>
<text x="637.4" y="67.5" fill="#1e5aa3">140 nm</text>
<text x="637.4" y="21" fill="#1c3a72">197 nm</text>
</g></g>
<g id="C">
<text transform="translate(331,233.2) scale(1,1.08)" font-size="22" font-weight="bold">C</text>
<polygon points="405.4,405.2 673.3,228.84 673.3,280.98" fill="#f6c6c6"/>
<line x1="405.4" y1="405.2" x2="673.3" y2="253.74" stroke="#e0201f" stroke-width="3"/>
<rect x="405.4" y="220" width="267.9" height="185.2" fill="none" stroke="#000" stroke-width="1.4"/>
<g stroke="#000" stroke-width="1.1">
<line x1="401.8" y1="405.2" x2="405.4" y2="405.2"/>
<line x1="401.8" y1="354.38" x2="405.4" y2="354.38"/>
<line x1="669.7" y1="354.38" x2="673.3" y2="354.38"/>
<line x1="401.8" y1="303.55" x2="405.4" y2="303.55"/>
<line x1="669.7" y1="303.55" x2="673.3" y2="303.55"/>
<line x1="401.8" y1="252.72" x2="405.4" y2="252.72"/>
<line x1="669.7" y1="252.72" x2="673.3" y2="252.72"/>
<line x1="405.4" y1="405.2" x2="405.4" y2="408.8"/>
<line x1="472.38" y1="405.2" x2="472.38" y2="408.8"/>
<line x1="472.38" y1="220" x2="472.38" y2="223.6"/>
<line x1="539.35" y1="405.2" x2="539.35" y2="408.8"/>
<line x1="539.35" y1="220" x2="539.35" y2="223.6"/>
<line x1="606.32" y1="405.2" x2="606.32" y2="408.8"/>
<line x1="606.32" y1="220" x2="606.32" y2="223.6"/>
<line x1="673.3" y1="405.2" x2="673.3" y2="408.8"/>
</g>
<g font-size="14" text-anchor="end">
<text x="398.6" y="410.2">0.00</text>
<text x="398.6" y="359.38">0.05</text>
<text x="398.6" y="308.55">0.10</text>
<text x="398.6" y="257.73">0.15</text>
</g>
<g font-size="14" text-anchor="middle">
<text x="405.4" y="422">0</text>
<text x="472.38" y="422">50</text>
<text x="539.35" y="422">100</text>
<text x="606.32" y="422">150</text>
<text x="673.3" y="422">200</text>
</g>
<text x="539.35" y="439.2" font-size="14" text-anchor="middle">Particle diameter [nm]</text>
<text transform="translate(364,312.3) rotate(-90)" font-size="14" text-anchor="middle">Drag force [pN]</text>
</g>
<g id="D">
<text transform="translate(331.2,445.6) scale(1,1.05)" font-size="22" font-weight="bold">D</text>
<polygon points="403.8,639.8 667.64,449.4 677.2,449.4 677.2,580.54" fill="#c9d2e6"/>
<line x1="403.8" y1="639.8" x2="677.2" y2="511.52" stroke="#2a4aa0" stroke-width="3"/>
<rect x="403.8" y="449.4" width="273.4" height="190.4" fill="none" stroke="#000" stroke-width="1.4"/>
<g stroke="#000" stroke-width="1.1">
<line x1="400.2" y1="639.8" x2="403.8" y2="639.8"/>
<line x1="400.2" y1="592.2" x2="403.8" y2="592.2"/>
<line x1="673.6" y1="592.2" x2="677.2" y2="592.2"/>
<line x1="400.2" y1="544.6" x2="403.8" y2="544.6"/>
<line x1="673.6" y1="544.6" x2="677.2" y2="544.6"/>
<line x1="400.2" y1="497" x2="403.8" y2="497"/>
<line x1="673.6" y1="497" x2="677.2" y2="497"/>
<line x1="400.2" y1="449.4" x2="403.8" y2="449.4"/>
<line x1="403.8" y1="639.8" x2="403.8" y2="643.4"/>
<line x1="458.48" y1="639.8" x2="458.48" y2="643.4"/>
<line x1="458.48" y1="449.4" x2="458.48" y2="453"/>
<line x1="513.16" y1="639.8" x2="513.16" y2="643.4"/>
<line x1="513.16" y1="449.4" x2="513.16" y2="453"/>
<line x1="567.84" y1="639.8" x2="567.84" y2="643.4"/>
<line x1="567.84" y1="449.4" x2="567.84" y2="453"/>
<line x1="622.52" y1="639.8" x2="622.52" y2="643.4"/>
<line x1="622.52" y1="449.4" x2="622.52" y2="453"/>
<line x1="677.2" y1="639.8" x2="677.2" y2="643.4"/>
</g>
<g font-size="14" text-anchor="end">
<text x="397" y="644.8">0.0</text>
<text x="397" y="597.2">0.1</text>
<text x="397" y="549.6">0.2</text>
<text x="397" y="502">0.3</text>
<text x="397" y="454.4">0.4</text>
</g>
<g font-size="14" text-anchor="middle">
<text x="403.8" y="656.6">0</text>
<text x="458.48" y="656.6">2</text>
<text x="513.16" y="656.6">4</text>
<text x="567.84" y="656.6">6</text>
<text x="622.52" y="656.6">8</text>
<text x="677.2" y="656.6">10</text>
</g>
<text x="540.5" y="673.8" font-size="14" text-anchor="middle">Loop length [kb]</text>
<text transform="translate(371,543.5) rotate(-90)" font-size="14" text-anchor="middle">Drag force [pN]</text>
</g>
</svg>
</body></html>
